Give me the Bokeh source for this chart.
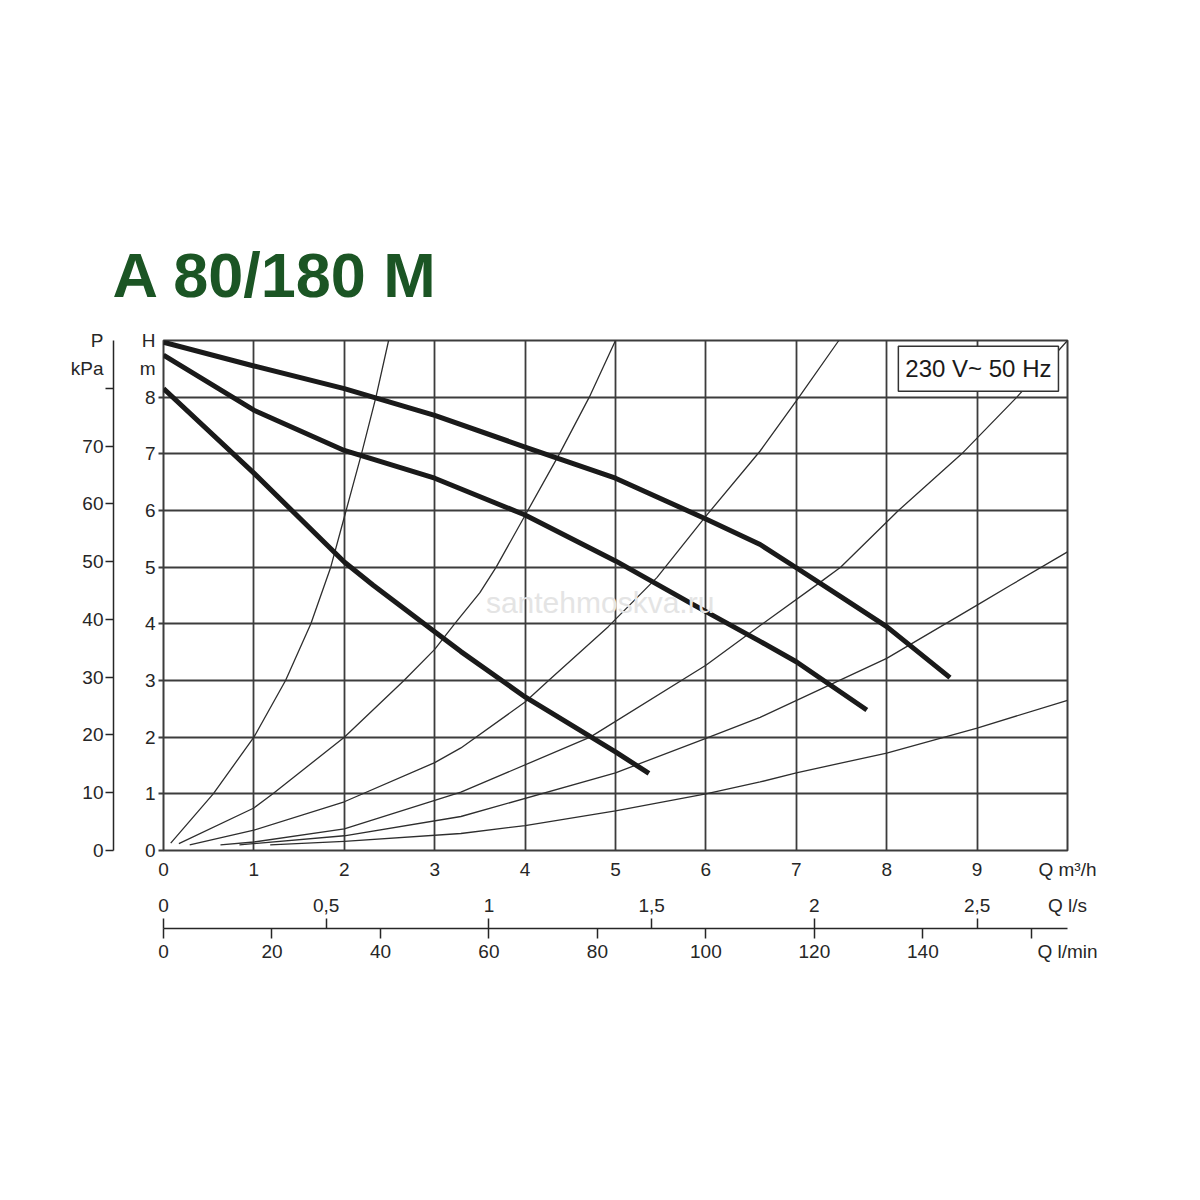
from bokeh.plotting import figure
from bokeh.models import Range1d, LinearAxis, FixedTicker, Label
from bokeh.embed import file_html
from bokeh.resources import INLINE

FONT = "Liberation Sans"
INK = "#262626"
GRID = "#3c3c3c"

# ---- data (Q in m3/h, H in m) ----
pump_top_q = [0, 1, 2, 3, 4, 5, 6, 6.6, 7.0, 7.5, 8.0, 8.7]
pump_top_h = [8.97, 8.55, 8.15, 7.68, 7.12, 6.57, 5.85, 5.40, 4.99, 4.47, 3.95, 3.05]

pump_mid_q = [0, 1, 2, 3, 4, 5, 5.87, 6.6, 7.0, 7.78]
pump_mid_h = [8.74, 7.77, 7.06, 6.57, 5.92, 5.11, 4.33, 3.69, 3.33, 2.48]

pump_low_q = [0, 1, 2, 2.32, 3, 3.29, 4, 5, 5.37]
pump_low_h = [8.15, 6.66, 5.09, 4.68, 3.86, 3.51, 2.71, 1.74, 1.36]

sys_a_q = [0.08, 0.55, 1.0, 1.35, 1.63, 1.85, 2.02, 2.19, 2.35, 2.49]
sys_a_h = [0.13, 1.0, 2.0, 3.0, 4.0, 5.0, 6.0, 7.0, 8.0, 9.0]

sys_b_q = [0.17, 1.0, 1.21, 2.0, 2.66, 3.0, 3.22, 3.50, 3.68, 4.03, 4.38, 4.71, 5.0]
sys_b_h = [0.12, 0.75, 1.0, 2.0, 3.0, 3.55, 4.0, 4.55, 5.0, 6.0, 7.0, 8.0, 9.0]

sys_c_q = [0.29, 1.0, 2.0, 3.0, 3.29, 4.0, 4.26, 4.92, 5.46, 6.0, 6.6, 7.03, 7.47]
sys_c_h = [0.1, 0.36, 0.86, 1.55, 1.81, 2.62, 3.0, 3.95, 4.82, 5.9, 7.05, 8.0, 9.0]

sys_d_q = [0.63, 1.0, 2.0, 3.29, 4.72, 6.0, 6.6, 7.27, 7.49, 8.13, 8.83, 9.44, 10.0]
sys_d_h = [0.1, 0.15, 0.38, 1.03, 2.0, 3.27, 3.97, 4.74, 5.0, 6.0, 7.0, 8.0, 9.0]

sys_e_q = [0.84, 2.0, 3.29, 5.0, 6.0, 6.6, 8.0, 9.0, 9.37, 10.0]
sys_e_h = [0.1, 0.26, 0.6, 1.37, 1.98, 2.35, 3.39, 4.33, 4.68, 5.27]

sys_f_q = [1.18, 2.0, 3.29, 4.0, 5.0, 6.0, 6.6, 7.0, 8.0, 9.0, 10.0]
sys_f_h = [0.1, 0.16, 0.3, 0.44, 0.7, 1.0, 1.21, 1.37, 1.72, 2.16, 2.65]

# ---- axes ----
q_max = 10
h_max = 9
kpa_per_m = 9.81
ls_per_m3h = 1 / 3.6
lmin_per_m3h = 1000 / 60

q_m3h_ticks = [0, 1, 2, 3, 4, 5, 6, 7, 8, 9]
q_ls_ticks = [0, 0.5, 1, 1.5, 2, 2.5]
q_ls_labels = ["0", "0,5", "1", "1,5", "2", "2,5"]
q_lmin_ticks = [0, 20, 40, 60, 80, 100, 120, 140, 160]
q_lmin_label_ticks = [0, 20, 40, 60, 80, 100, 120, 140]
h_ticks = [0, 1, 2, 3, 4, 5, 6, 7, 8]
p_ticks = [0, 10, 20, 30, 40, 50, 60, 70, 80]
p_label_ticks = [0, 10, 20, 30, 40, 50, 60, 70]

title_text = "A 80/180 M"
supply_text = "230 V~ 50 Hz"
watermark_text = "santehmoskva.ru"

p = figure(width=1184, height=1000,
           x_range=Range1d(0, q_max), y_range=Range1d(0, h_max),
           output_backend="svg", toolbar_location=None,
           min_border_left=163, min_border_right=117,
           min_border_top=340, min_border_bottom=150)
p.extra_x_ranges = {"ls": Range1d(0, q_max * ls_per_m3h),
                    "lmin": Range1d(0, q_max * lmin_per_m3h)}
p.extra_y_ranges = {"kpa": Range1d(0, h_max * kpa_per_m)}
p.background_fill_color = "white"
p.border_fill_color = "white"
p.outline_line_color = GRID
p.outline_line_width = 2

p.title.text = title_text
p.title.align = "left"
p.title.offset = -51
p.title.standoff = 62
p.title.text_font = FONT
p.title.text_font_style = "bold"
p.title.text_font_size = "63px"
p.title.text_color = "#1b5524"

p.xgrid.ticker = FixedTicker(ticks=q_m3h_ticks[1:])
p.ygrid.ticker = FixedTicker(ticks=h_ticks[1:])
for g in (p.xgrid[0], p.ygrid[0]):
    g.grid_line_color = GRID
    g.grid_line_width = 1.8


def style_labels(ax, size="19px"):
    ax.major_label_text_font = FONT
    ax.major_label_text_font_size = size
    ax.major_label_text_color = INK


def plain(ax):
    ax.axis_line_color = None
    ax.major_tick_line_color = None
    ax.major_tick_in = 0
    ax.major_tick_out = 0
    ax.minor_tick_line_color = None


# Q m3/h axis
ax0 = p.xaxis[0]
ax0.ticker = FixedTicker(ticks=q_m3h_ticks + [q_max])
ax0.major_label_overrides = {q_max: "Q m³/h"}
plain(ax0)
ax0.major_label_standoff = 8
style_labels(ax0)

# Q l/s labels
ls_lab_ticks = q_ls_ticks + [q_max * ls_per_m3h]
ax1 = LinearAxis(x_range_name="ls", ticker=FixedTicker(ticks=ls_lab_ticks))
ax1.major_label_overrides = dict(zip(ls_lab_ticks, q_ls_labels + ["Q l/s"]))
plain(ax1)
ax1.major_label_standoff = 12
style_labels(ax1)
p.add_layout(ax1, "below")

# Q l/s tick marks, hanging down to the shared line (no labels)
ax2 = LinearAxis(x_range_name="ls", ticker=FixedTicker(ticks=[], minor_ticks=q_ls_ticks))
plain(ax2)
ax2.major_tick_out = 10
ax2.major_label_standoff = 0
ax2.minor_tick_line_color = INK
ax2.minor_tick_line_width = 1.5
ax2.minor_tick_in = 0
ax2.minor_tick_out = 10
p.add_layout(ax2, "below")

# Q l/min line, ticks and labels
lmin_lab_ticks = q_lmin_label_ticks + [q_max * lmin_per_m3h]
ax3 = LinearAxis(x_range_name="lmin",
                 ticker=FixedTicker(ticks=lmin_lab_ticks, minor_ticks=q_lmin_ticks))
ax3.major_label_overrides = dict(zip(lmin_lab_ticks,
                                     [str(t) for t in q_lmin_label_ticks] + ["Q l/min"]))
plain(ax3)
ax3.axis_line_color = INK
ax3.axis_line_width = 1.5
ax3.minor_tick_line_color = INK
ax3.minor_tick_line_width = 1.5
ax3.minor_tick_in = 0
ax3.minor_tick_out = 10
ax3.major_label_standoff = 2
style_labels(ax3)
p.add_layout(ax3, "below")

# H axis (with "H" / "m" caption at the top)
h_lab_ticks = h_ticks + [8.5, 9]
ay0 = p.yaxis[0]
ay0.ticker = FixedTicker(ticks=h_lab_ticks, minor_ticks=h_ticks)
ay0.major_label_overrides = {8.5: "m", 9: "H"}
plain(ay0)
ay0.minor_tick_line_color = GRID
ay0.minor_tick_line_width = 1.8
ay0.minor_tick_in = 0
ay0.minor_tick_out = 5
ay0.major_label_standoff = 3
style_labels(ay0)

# spacer between H and P axes (invisible minor tick gives it its width)
ays = LinearAxis(ticker=FixedTicker(ticks=[], minor_ticks=[0]))
plain(ays)
ays.major_tick_out = 23
ays.minor_tick_out = 23
ays.minor_tick_in = 0
ays.major_label_standoff = 0
p.add_layout(ays, "left")

# P kPa axis (with "P" / "kPa" caption at the top)
p_lab_ticks = p_label_ticks + [8.5 * kpa_per_m, h_max * kpa_per_m]
ay1 = LinearAxis(y_range_name="kpa", ticker=FixedTicker(ticks=p_lab_ticks, minor_ticks=p_ticks))
ay1.major_label_overrides = {8.5 * kpa_per_m: "kPa", h_max * kpa_per_m: "P"}
plain(ay1)
ay1.axis_line_color = INK
ay1.axis_line_width = 1.5
ay1.minor_tick_line_color = INK
ay1.minor_tick_line_width = 1.5
ay1.minor_tick_in = 0
ay1.minor_tick_out = 8
ay1.major_label_standoff = 2
style_labels(ay1)
p.add_layout(ay1, "left")

# watermark
p.add_layout(Label(x=4.83, y=4.38, text=watermark_text, text_align="center",
                   text_baseline="middle", text_font=FONT, text_font_size="30px",
                   text_color="#e4e4e4"))

# system curves
for qq, hh in [(sys_a_q, sys_a_h), (sys_b_q, sys_b_h), (sys_c_q, sys_c_h),
               (sys_d_q, sys_d_h), (sys_e_q, sys_e_h), (sys_f_q, sys_f_h)]:
    p.line(qq, hh, line_color="#2e2e2e", line_width=1.3, line_join="round")

# pump curves
for qq, hh in [(pump_top_q, pump_top_h), (pump_mid_q, pump_mid_h), (pump_low_q, pump_low_h)]:
    p.line(qq, hh, line_color="#1a1a1a", line_width=5, line_join="round")

# supply box
p.add_layout(Label(x=9.9, y=8.9, x_offset=0, y_offset=0, text=supply_text,
                   text_align="right", text_baseline="top", text_font=FONT,
                   text_font_size="24px", text_color="#1a1a1a",
                   background_fill_color="white", border_line_color="#333333",
                   border_line_width=1.5, padding=(7, 9)))

open("out.html", "w").write(file_html(p, INLINE))
